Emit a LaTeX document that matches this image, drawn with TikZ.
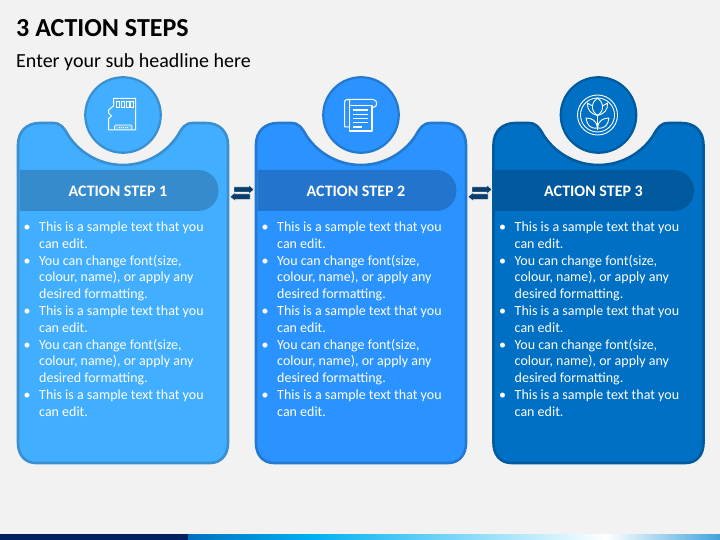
\documentclass[tikz,border=0pt]{standalone}
\usepackage{fontspec}
\setmainfont{Carlito}
\definecolor{pagebg}{HTML}{F2F2F2}
\definecolor{cardA}{HTML}{42AEFF}
\definecolor{edgeA}{HTML}{3A8FD0}
\definecolor{bandA}{HTML}{358BCB}
\definecolor{cardB}{HTML}{2B93FF}
\definecolor{edgeB}{HTML}{2378D0}
\definecolor{bandB}{HTML}{2274CC}
\definecolor{cardC}{HTML}{0070C4}
\definecolor{edgeC}{HTML}{005A9E}
\definecolor{bandC}{HTML}{00589D}
\definecolor{navy}{HTML}{0B3E6B}
\definecolor{stripdark}{HTML}{002060}
\definecolor{stripblue}{HTML}{0070C0}
\definecolor{stripcyan}{HTML}{00B0F0}
\definecolor{stripend}{HTML}{3FA4DC}
\newcommand{\bul}{\llap{\textbullet\hspace{8.5pt}}}
\tikzset{
  stepcircle/.style={circle,draw,line width=2.2pt,minimum size=75.5pt,inner sep=0pt},
  steptitle/.style={text=white,font=\fontsize{16}{18}\selectfont\bfseries,inner sep=0pt},
  steptext/.style={text=white,anchor=north west,align=left,inner sep=0pt,
    font=\fontsize{14}{16.8}\selectfont},
  swaparrow/.style={fill=navy,draw=white,line width=0.4pt,line join=miter},
  icon/.style={draw=white,line width=1pt,line join=round}
}
\begin{document}
\begin{tikzpicture}[x=1pt,y=-1pt]
  \useasboundingbox[fill=pagebg] (0,0) rectangle (720,540);
  % headline
  \node[anchor=base west,inner sep=0pt,font=\fontsize{26}{28}\selectfont\bfseries] (headline) at (16,37) {3 ACTION STEPS};
  \node[anchor=base west,inner sep=0pt,font=\fontsize{20}{24}\selectfont] (subline) at (16,67.5) {Enter your sub headline here};
  % cards
  \foreach \n/\x/\fillc/\edgec/\bandc in {1/18/cardA/edgeA/bandA,2/256/cardB/edgeB/bandB,3/493.5/cardC/edgeC/bandC}{
    \begin{scope}[xshift=\x]
      \draw[fill=\fillc,draw=\edgec,line width=2.6pt]
        (0,145) .. controls (0,131) and (9,123) .. (22,123) -- (35,123)
        .. controls (43,123) and (46,128) .. (50,135)
        .. controls (60,151) and (80,165) .. (105,165)
        .. controls (130,165) and (150,151) .. (160,135)
        .. controls (164,128) and (167,123) .. (175,123) -- (188,123)
        .. controls (201,123) and (210,131) .. (210,145)
        -- (210,443) .. controls (210,455) and (203,463) .. (192,463)
        -- (18,463) .. controls (7,463) and (0,455) .. (0,443) -- cycle;
      \fill[\bandc] (1.5,170) -- (180,170) .. controls (191.5,170) and (200.5,179) .. (200.5,190.5)
        .. controls (200.5,202) and (191.5,211) .. (180,211) -- (1.5,211) -- cycle;
      \node[stepcircle,fill=\fillc,draw=\edgec] (circle\n) at (105,115) {};
      \node[steptitle] (title\n) at (100,191) {ACTION STEP \n};
      \node[steptext] (text\n) at (21,221.5) {\bul This is a sample text that you\\can edit.\\
        \bul You can change font(size,\\colour, name), or apply any\\desired formatting.\\
        \bul This is a sample text that you\\can edit.\\
        \bul You can change font(size,\\colour, name), or apply any\\desired formatting.\\
        \bul This is a sample text that you\\can edit.};
    \end{scope}
  }
  % arrows between cards
  \foreach \x in {242,480}{
    \begin{scope}[xshift=\x]
      \draw[swaparrow] (-8,187) -- (7,187) -- (7,185) -- (12,189.5) -- (7,194) -- (7,192) -- (-8,192) -- cycle;
      \draw[swaparrow] (8,194) -- (-7,194) -- (-7,192.5) -- (-12,196.8) -- (-7,201) -- (-7,199.5) -- (8,199.5) -- cycle;
    \end{scope}
  }
  % memory card icon
  \draw[icon] (113.5,98.5) -- (135.5,98.5) -- (135.5,130) -- (108.5,130) -- (108.5,118.5) -- (111.5,116) -- (108.5,113) -- (108.5,110) -- (113.5,106) -- cycle;
  \foreach \cx in {118,123,127.5,131.5}{
    \draw[draw=white,line width=0.8pt] (\cx-1.5,101) rectangle (\cx+1.5,107.5);
  }
  \draw[draw=white,line width=0.8pt,fill=white,fill opacity=0.2] (114.5,130) -- (114.5,126.5) -- (115.5,125) -- (131,125) -- (132,126.5) -- (132,130);
  \draw[draw=white,line width=1pt,dash pattern=on 1pt off 1pt] (118.5,128) -- (128,128);
  % scroll icon
  \draw[icon] (372,107.5) -- (373,107.5) .. controls (378,107.5) and (378,99.5) .. (373,99.5) -- (347,99.5)
    .. controls (345,99.5) and (344.5,101) .. (344.5,103) -- (344.5,127) -- (349.5,127);
  \draw[icon] (349.5,105) .. controls (349.5,101) and (351,99.5) .. (347,99.5);
  \draw[icon,line width=1.2pt] (349.5,105.5) rectangle (372,131);
  \foreach \ly in {110,114.3,118.5,122.7}{
    \draw[draw=white,line width=1.1pt] (353,\ly) -- (368,\ly);
  }
  \draw[draw=white,line width=1.1pt] (353,127) -- (362,127);
  % flower icon
  \draw[draw=white,line width=0.9pt] (597.5,115) circle[radius=20];
  \draw[draw=white,line width=0.9pt] (597.5,115) circle[radius=17];
  \draw[draw=white,line width=0.9pt,line join=round] (597.5,115.5) .. controls (591,114) and (587,110) .. (587.5,103) -- (592.5,106)
    .. controls (593,102) and (595,100) .. (597.5,98) .. controls (600,100) and (602,102) .. (602.5,106) -- (607.5,103)
    .. controls (608,110) and (604,114) .. (597.5,115.5) -- (597.5,130);
  \draw[draw=white,line width=0.9pt] (592.5,106) .. controls (592,110) and (594,113) .. (597.5,115.5) .. controls (601,113) and (603,110) .. (602.5,106);
  \draw[draw=white,line width=0.9pt,line join=round] (597.5,128) .. controls (590,129) and (587,125) .. (586,118) .. controls (592,118) and (597,121) .. (597.5,128)
    .. controls (598,121) and (603,118) .. (609,118) .. controls (608,125) and (605,129) .. (597.5,128);
  % bottom strip
  \fill[stripdark] (0,534) rectangle (188,540);
  \shade[left color=stripblue,right color=stripcyan] (188,534) rectangle (312,540);
  \shade[left color=stripcyan,right color=white] (312,534) rectangle (606,540);
  \shade[left color=white,right color=stripend] (606,534) rectangle (720,540);
\end{tikzpicture}
\end{document}
